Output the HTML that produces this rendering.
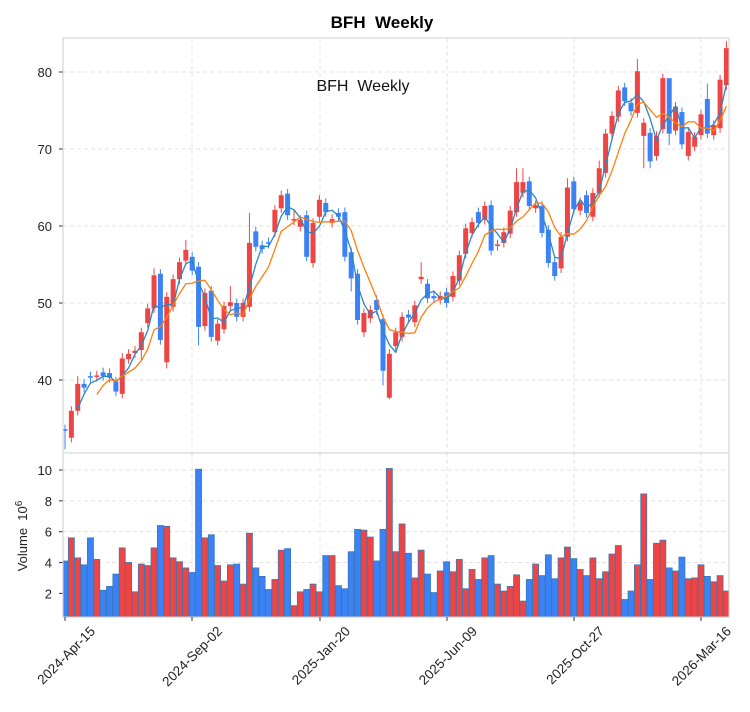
<!DOCTYPE html>
<html><head><meta charset="utf-8"><style>
body{margin:0;background:#fff;}
svg{display:block;font-family:"Liberation Sans",sans-serif;}
</style></head><body>
<svg id="s" width="750" height="712" xmlns="http://www.w3.org/2000/svg"></svg>
<script>
const C=[[33.6,33.4],[32.5,36],[36,39.5],[39.5,39],[40.5,40.3],[40.4,40.6],[41,40.5],[40.9,40.3],[39.8,38.5],[38.2,42.8],
[42.7,43.4],[43.5,43.8],[43.9,46.2],[47.4,49.3],[49.3,53.6],[53.8,45.2],[42.3,50.8],[49.5,53.1],[53.1,55.3],[55.5,56.9],
[56,54.2],[54.7,46.9],[47,51.3],[51.6,45.6],[45.1,47.3],[46.6,49.6],[49.6,50.1],[50,48.2],[48.2,50],[49.5,57.8],
[59.3,57.3],[57.5,57],[57.9,57.7],[59.2,62.1],[62.3,64],[64.2,61.4],[60.7,60.9],[59.9,60.8],[61.4,56],[55.2,60.4],
[61.2,63.4],[63,61.8],[60.4,60.9],[61.7,61.2],[61.8,56],[56.6,53.2],[53.8,47.8],[46.2,48.7],[48,49.1],[50.4,49.1],
[47.9,41.2],[37.7,43.4],[44.4,46.2],[45.6,48.2],[48.5,48.1],[47.5,49.7],[53.1,53.4],[52.5,50.6],[50.9,50.6],[50.4,50.9],
[51.4,50],[50.8,53.5],[52.9,56.2],[56.4,59.7],[59.1,60.5],[61.8,60.4],[60.8,62.6],[62.7,56.8],[57.4,57.6],[57.8,59.2],
[59,62],[61.8,65.7],[64.3,65.7],[65.8,62.6],[62.3,62.7],[62.6,59.1],[59.5,55.2],[55.3,53.5],[54.5,58.6],[58.6,65],
[65.8,62.2],[62,63.1],[64,61.7],[61.2,64.3],[64.3,67.5],[66.9,72],[72,74.3],[74.2,77.6],[78,76.2],[76,74.9],
[74.7,80.1],[71.7,73.4],[72.1,68.4],[69.1,71.7],[72.6,79.2],[79.2,72],[72.4,75.5],[74.8,70.6],[69.1,72.2],[70.3,71.6],
[71.8,74.5],[76.5,72],[71.8,73.1],[72.7,79],[78.3,83.1]];
const V=[4.1,5.6,4.3,3.85,5.6,4.2,2.2,2.45,3.25,4.95,4.0,2.1,3.9,3.8,4.95,6.4,6.35,4.3,4.05,3.65,3.35,10.05,5.6,5.8,3.8,2.8,3.85,3.9,2.6,5.9,3.65,3.1,2.25,2.9,4.8,4.9,1.2,2.1,2.25,2.6,2.1,4.45,4.45,2.5,2.3,4.7,6.15,6.1,5.65,4.1,6.15,10.1,4.7,6.5,4.6,3.0,4.8,3.25,2.05,3.45,4.05,3.4,4.2,2.3,3.55,2.9,4.3,4.45,2.6,2.15,2.45,3.2,1.5,2.9,3.9,3.15,4.5,2.95,4.3,5.0,4.25,3.55,3.15,4.3,2.95,3.4,4.55,5.1,1.6,2.15,3.85,8.45,2.9,5.25,5.45,3.65,3.45,4.35,2.95,3.0,3.85,3.1,2.75,3.15,2.15];
const HI={2:40.5,19:58.2,26:52.2,29:61.7,90:81.7,104:84,101:78.5,95:79.2,14:54.5,9:43.5,84:68.5,36:62,56:55.3,79:66.2,71:67.5,72:67.5};
const LO={0:31,16:41.5,21:44.5,51:37.5,92:67.5,95:70.5,86:71,50:39.3,45:51.5,87:73.5,12:42.5,91:67.5,93:68.5};
const X=i=>65+6.36*i, Y=p=>72+(80-p)*7.7, VY=v=>624.2-15.42*v;
const RED="#ef4444",BLUE="#3b82f6";
let h='';
const g='stroke="#e3e3e3" stroke-width="1" stroke-dasharray="4,3"';
[192,320,447,574,701].forEach(x=>{h+=`<line x1="${x}" y1="38" x2="${x}" y2="453" ${g}/><line x1="${x}" y1="453" x2="${x}" y2="617" ${g}/>`;});
[40,50,60,70,80].forEach(p=>{h+=`<line x1="63" y1="${Y(p)}" x2="729" y2="${Y(p)}" ${g}/><line x1="59" y1="${Y(p)}" x2="63" y2="${Y(p)}" stroke="#333"/><text x="52" y="${Y(p)+5}" font-size="13" text-anchor="end" fill="#222">${p}</text>`;});
[2,4,6,8,10].forEach(v=>{h+=`<line x1="63" y1="${VY(v)}" x2="729" y2="${VY(v)}" ${g}/><line x1="59" y1="${VY(v)}" x2="63" y2="${VY(v)}" stroke="#333"/><text x="52" y="${VY(v)+5}" font-size="13" text-anchor="end" fill="#222">${v}</text>`;});
h+='<clipPath id="cv"><rect x="63" y="453" width="666" height="164"/></clipPath><g clip-path="url(#cv)">';
V.forEach((v,i)=>{const c=C[i][1]>=C[i][0]?RED:BLUE;h+=`<rect x="${X(i)-3}" y="${VY(v)}" width="6" height="${630-VY(v)}" fill="${c}" stroke="#3a78b8" stroke-width="0.8"/>`;});
h+='</g>';
C.forEach(([o,c],i)=>{const col=c>=o?RED:BLUE;const hi=HI[i]||Math.max(o,c)+0.6,lo=LO[i]||Math.min(o,c)-0.6;const x=X(i);
h+=`<line x1="${x}" y1="${Y(hi)}" x2="${x}" y2="${Y(lo)}" stroke="${col}" stroke-width="1"/>`;
const t=Y(Math.max(o,c)),b=Y(Math.min(o,c));h+=`<rect x="${x-2.5}" y="${t}" width="5" height="${Math.max(b-t,1)}" fill="${col}"/>`;});
function ma(n,col,w){let pts=[];for(let i=n-1;i<C.length;i++){let s=0;for(let k=0;k<n;k++)s+=C[i-k][1];pts.push(X(i).toFixed(1)+','+Y(s/n).toFixed(1));}
h+=`<polyline points="${pts.join(' ')}" fill="none" stroke="${col}" stroke-width="${w}"/>`;}
ma(3,"#2e86c1",1.3);ma(6,"#ff7f0e",1.3);
h+=`<rect x="63" y="38" width="666" height="415" fill="none" stroke="#cfcfcf"/><rect x="63" y="453" width="666" height="164" fill="none" stroke="#cfcfcf"/>`;
const L=[[65,"2024-Apr-15"],[192,"2024-Sep-02"],[320,"2025-Jan-20"],[447,"2025-Jun-09"],[574,"2025-Oct-27"],[701,"2026-Mar-16"]];
L.forEach(([x,t])=>{h+=`<line x1="${x}" y1="617" x2="${x}" y2="621" stroke="#333"/><text transform="translate(${x+31},632) rotate(-45)" font-size="13.5" text-anchor="end" fill="#222">${t}</text>`;});
h+=`<text x="382" y="28" font-size="17" font-weight="bold" text-anchor="middle" fill="#000" xml:space="preserve">BFH  Weekly</text>`;
h+=`<text x="363" y="91" font-size="16" text-anchor="middle" fill="#111" xml:space="preserve">BFH  Weekly</text>`;
h+=`<text transform="translate(27,536) rotate(-90)" font-size="13" text-anchor="middle" fill="#222" xml:space="preserve">Volume  10<tspan dy="-5" font-size="10">6</tspan></text>`;
document.getElementById('s').innerHTML=h;
</script>
</body></html>
